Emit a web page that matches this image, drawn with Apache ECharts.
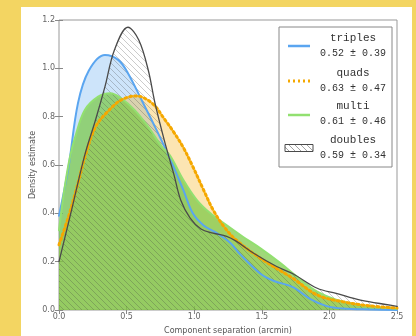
<!DOCTYPE html>
<html>
<head>
<meta charset="utf-8">
<script src="https://cdn.jsdelivr.net/npm/echarts@6/dist/echarts.min.js"></script>
<style>
html,body{margin:0;padding:0;background:#f3d562;}
#chart{width:416px;height:336px;}
</style>
</head>
<body>
<div id="chart"></div>
<script>
// ---- data ----
var xTicks = [0.0, 0.5, 1.0, 1.5, 2.0, 2.5];
var yTicks = [0.0, 0.2, 0.4, 0.6, 0.8, 1.0, 1.2];

var triplesX = [0, 0.07, 0.14, 0.22, 0.34, 0.44, 0.51, 0.61, 0.71, 0.81, 0.92, 0.99, 1.07, 1.17, 1.27, 1.34, 1.49, 1.59, 1.73, 1.86, 1.98, 2.1, 2.3, 2.5];
var triplesY = [0.39, 0.59, 0.855, 0.99, 1.055, 1.034, 0.98, 0.87, 0.758, 0.64, 0.496, 0.40, 0.35, 0.317, 0.276, 0.23, 0.15, 0.12, 0.095, 0.045, 0.016, 0.006, 0.002, 0.0];

var quadsX = [0, 0.07, 0.14, 0.19, 0.27, 0.37, 0.46, 0.57, 0.69, 0.78, 0.85, 0.92, 0.99, 1.07, 1.14, 1.22, 1.31, 1.49, 1.73, 1.91, 2.1, 2.3, 2.5];
var quadsY = [0.27, 0.386, 0.524, 0.63, 0.758, 0.827, 0.869, 0.886, 0.855, 0.79, 0.735, 0.672, 0.593, 0.496, 0.414, 0.345, 0.29, 0.214, 0.131, 0.062, 0.034, 0.017, 0.008];

var multiX = [0, 0.04, 0.08, 0.12, 0.19, 0.29, 0.38, 0.46, 0.56, 0.66, 0.76, 0.82, 0.92, 1.02, 1.12, 1.22, 1.36, 1.49, 1.64, 1.76, 1.91, 2.1, 2.3, 2.5];
var multiY = [0.33, 0.5, 0.63, 0.717, 0.827, 0.883, 0.897, 0.876, 0.827, 0.758, 0.676, 0.64, 0.538, 0.455, 0.40, 0.359, 0.303, 0.255, 0.193, 0.138, 0.076, 0.034, 0.015, 0.005];

var doublesX = [0, 0.1, 0.19, 0.27, 0.34, 0.41, 0.51, 0.59, 0.66, 0.71, 0.78, 0.85, 0.90, 0.97, 1.05, 1.14, 1.24, 1.31, 1.44, 1.61, 1.73, 1.91, 2.05, 2.23, 2.45, 2.5];
var doublesY = [0.2, 0.43, 0.64, 0.786, 0.924, 1.076, 1.17, 1.117, 0.993, 0.856, 0.70, 0.56, 0.455, 0.38, 0.335, 0.318, 0.305, 0.285, 0.235, 0.18, 0.15, 0.09, 0.069, 0.041, 0.02, 0.015];

var seriesNames = ['triples', 'quads', 'multi', 'doubles'];
var seriesStats = ['0.52 \u00b1 0.39', '0.63 \u00b1 0.47', '0.61 \u00b1 0.46', '0.59 \u00b1 0.34'];

// ---- helpers ----
function pairs(xs, ys){ return xs.map(function(x,i){ return [x, ys[i]]; }); }
function hatchCanvas(alpha){
  var c = document.createElement('canvas');
  c.width = 6; c.height = 6;
  var g = c.getContext('2d');
  g.strokeStyle = 'rgba(70,70,70,' + alpha + ')';
  g.lineWidth = 1;
  g.beginPath();
  g.moveTo(-1,-1); g.lineTo(7,7);
  g.moveTo(-1,5); g.lineTo(1,7);
  g.moveTo(5,-1); g.lineTo(7,1);
  g.stroke();
  return c;
}
var hatch = {image: hatchCanvas(0.28), repeat: 'repeat'};
var hatchLegend = {image: hatchCanvas(0.5), repeat: 'repeat'};

var blue = '#5aa5f0', orange = '#f5a800', green = '#92e070', black = '#4a4a4a';

function areaSeries(name, xs, ys, fill){
  return {type:'line', name:name+'_area', data:pairs(xs,ys), smooth:0.35, showSymbol:false, symbol:'none',
    lineStyle:{width:0, opacity:0}, areaStyle:{color:fill, opacity:1}, z:2, silent:true};
}
function lineSeries(name, xs, ys, color, width, type){
  return {type:'line', name:name, data:pairs(xs,ys), smooth:0.35, showSymbol:false, symbol:'none',
    lineStyle:{color:color, width:width, type:type||'solid', cap:'round'}, z:5, silent:true};
}

var chart = echarts.init(document.getElementById('chart'), null, {renderer:'canvas'});

// legend graphics
var legendGraphics = [
  {type:'rect', shape:{x:279, y:27, width:113, height:140}, style:{fill:'#fff', stroke:'#888', lineWidth:1}, z:10}
];
var rowY = [38, 73, 106, 140];
var iconY = [46, 81, 115, 148];
for (var i=0;i<4;i++){
  legendGraphics.push({type:'text', x:353, y:rowY[i], style:{text:seriesNames[i], fill:'#333', font:'11px "Liberation Mono", monospace', textAlign:'center', textVerticalAlign:'middle'}, z:11});
  legendGraphics.push({type:'text', x:353, y:rowY[i]+15, style:{text:seriesStats[i], fill:'#333', font:'10px "Liberation Mono", monospace', textAlign:'center', textVerticalAlign:'middle'}, z:11});
}
legendGraphics.push({type:'line', shape:{x1:288,y1:iconY[0],x2:310,y2:iconY[0]}, style:{stroke:blue, lineWidth:2.5}, z:11});
legendGraphics.push({type:'line', shape:{x1:288,y1:iconY[1],x2:310,y2:iconY[1]}, style:{stroke:orange, lineWidth:3, lineDash:[2,3]}, z:11});
legendGraphics.push({type:'line', shape:{x1:288,y1:iconY[2],x2:310,y2:iconY[2]}, style:{stroke:green, lineWidth:2.5}, z:11});
legendGraphics.push({type:'rect', shape:{x:285,y:iconY[3]-3.5,width:28,height:7}, style:{fill:hatchLegend, stroke:black, lineWidth:1}, z:11});

var option = {
  backgroundColor: '#f3d562',
  animation: false,
  grid: {left:59, top:20, right:19, bottom:26, show:true, borderColor:'#999', borderWidth:1, backgroundColor:'#fff', outerBoundsMode:'none', containLabel:false},
  graphic: [{type:'rect', shape:{x:21, y:7, width:391, height:329}, style:{fill:'#fff'}, z:-10}].concat(legendGraphics),
  xAxis: [{
    type:'value', min:0, max:2.5, interval:0.5,
    name:'Component separation (arcmin)', nameLocation:'middle', nameGap:17, nameMoveOverlap:false,
    nameTextStyle:{fontSize:8, color:'#555', fontFamily:'DejaVu Sans'},
    axisLine:{show:false}, splitLine:{show:false},
    axisTick:{show:true, inside:true, length:4, lineStyle:{color:'#888'}},
    axisLabel:{fontSize:8, color:'#666', margin:3, fontFamily:'DejaVu Sans', formatter:function(v){return v.toFixed(1);}}
  },{
    type:'value', min:0, max:2.5, interval:0.5, position:'top',
    axisLine:{show:false}, splitLine:{show:false}, axisLabel:{show:false},
    axisTick:{show:true, inside:true, length:4, lineStyle:{color:'#888'}}
  }],
  yAxis: [{
    type:'value', min:0, max:1.2, interval:0.2,
    name:'Density estimate', nameLocation:'middle', nameGap:22, nameRotate:90, nameMoveOverlap:false,
    nameTextStyle:{fontSize:8, color:'#555', fontFamily:'DejaVu Sans'},
    axisLine:{show:false}, splitLine:{show:false},
    axisTick:{show:true, inside:true, length:4, lineStyle:{color:'#888'}},
    axisLabel:{fontSize:8, color:'#666', margin:4, fontFamily:'DejaVu Sans', formatter:function(v){return v.toFixed(1);}}
  },{
    type:'value', min:0, max:1.2, interval:0.2, position:'right',
    axisLine:{show:false}, splitLine:{show:false}, axisLabel:{show:false},
    axisTick:{show:true, inside:true, length:4, lineStyle:{color:'#888'}}
  }],
  series: [
    areaSeries('triples', triplesX, triplesY, 'rgba(90,165,240,0.3)'),
    areaSeries('quads', quadsX, quadsY, 'rgba(245,168,0,0.3)'),
    areaSeries('multi', multiX, multiY, 'rgba(119,199,65,0.7)'),
    areaSeries('doubles', doublesX, doublesY, hatch),
    lineSeries('triples', triplesX, triplesY, blue, 2),
    lineSeries('multi', multiX, multiY, green, 2),
    lineSeries('quads', quadsX, quadsY, orange, 3, [2,3]),
    lineSeries('doubles', doublesX, doublesY, black, 1.3)
  ]
};
chart.setOption(option);
</script>
</body>
</html>
